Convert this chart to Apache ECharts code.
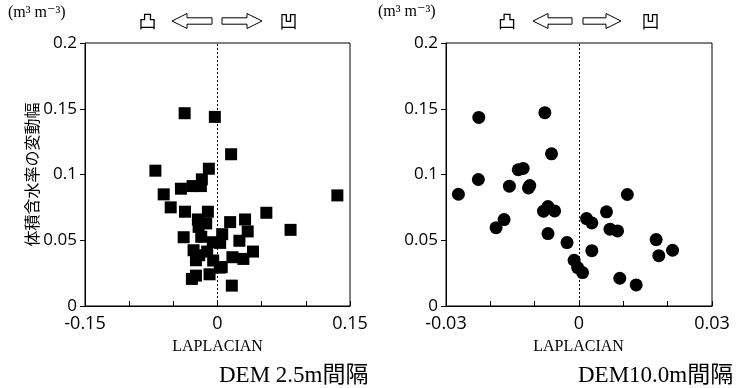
<!DOCTYPE html>
<html><head><meta charset="utf-8">
<script src="https://cdn.jsdelivr.net/npm/echarts@6/dist/echarts.min.js"></script>
<style>html,body{margin:0;padding:0;background:#fff}#c{width:738px;height:388px}</style>
</head><body><div id="c"></div>
<script>
// Left panel: DEM 2.5 m spacing (squares)
const leftLaplacian = [-0.0372,-0.0030,0.0154,-0.0703,-0.0098,-0.0177,-0.0188,-0.0282,-0.0414,-0.0609,
  0.1357,-0.0530,-0.0368,-0.0109,0.0553,-0.0222,0.0312,0.0143,-0.0128,-0.0214,
  0.0342,0.0827,0.0053,-0.0383,-0.0184,0.0248,-0.0053,0.0030,-0.0271,-0.0117,
  0.0402,-0.0207,0.0169,0.0293,-0.0244,-0.0049,0.0026,0.0048,-0.0090,-0.0244,
  -0.0290,0.0162];
const leftVariation = [0.1466,0.1438,0.1154,0.1029,0.1044,0.0963,0.0912,0.0912,0.0892,0.0849,
  0.0841,0.0750,0.0717,0.0717,0.0709,0.0658,0.0658,0.0638,0.0628,0.0602,
  0.0567,0.0579,0.0546,0.0523,0.0526,0.0496,0.0485,0.0480,0.0424,0.0414,
  0.0414,0.0386,0.0371,0.0358,0.0348,0.0346,0.0292,0.0296,0.0241,0.0231,
  0.0206,0.0155];
// Right panel: DEM 10.0 m spacing (circles)
const rightLaplacian = [-0.0272,-0.0226,-0.0227,-0.0187,-0.0169,-0.0157,-0.0137,-0.0126,-0.0114,-0.0111,
  -0.0077,-0.0062,-0.0080,-0.0070,-0.0055,-0.0070,-0.0027,-0.0011,-0.0003,0.0008,
  0.0017,0.0029,0.0029,0.0062,0.0070,0.0087,0.0109,0.0092,0.0129,0.0174,
  0.0180,0.0211];
const rightVariation = [0.0850,0.1434,0.0962,0.0596,0.0657,0.0911,0.1036,0.1046,0.0898,0.0916,
  0.1470,0.1157,0.0721,0.0756,0.0723,0.0551,0.0482,0.0348,0.0292,0.0254,
  0.0665,0.0632,0.0421,0.0716,0.0584,0.0571,0.0848,0.0211,0.0160,0.0505,
  0.0383,0.0424];
const yTicks = [0, 0.05, 0.1, 0.15, 0.2];
const leftXTickLabels = ['-0.15', '0', '0.15'];
const rightXTickLabels = ['-0.03', '0', '0.03'];
const yName = '体積含水率の変動幅';
const unitText = '(m³ m⁻³)';
const convexText = '凸', concaveText = '凹';
const xName = 'LAPLACIAN';
const leftTitle = 'DEM 2.5m間隔', rightTitle = 'DEM10.0m間隔';

const zip = (a, b) => a.map((v, i) => [v, b[i]]);
const sans = 'Open Sans, Liberation Sans, sans-serif';
const cjk = 'Noto Sans CJK JP';

function xAxisCfg(idx, min, max, interval, labels) {
  const vals = labels.map(parseFloat);
  return {
    type: 'value', gridIndex: idx, min, max, interval,
    axisLine: {show: true, onZero: false, lineStyle: {color: '#000', width: 1}},
    axisTick: {show: true, inside: true, length: 5, lineStyle: {color: '#000'}},
    axisLabel: {color: '#000', fontSize: 18, fontFamily: sans, margin: 9,
      formatter: v => { const k = vals.findIndex(l => Math.abs(l - v) < 1e-9); return k >= 0 ? labels[k] : ''; }},
    splitLine: {show: false}
  };
}
function yAxisCfg(idx, withName) {
  return {
    type: 'value', gridIndex: idx, min: yTicks[0], max: yTicks[yTicks.length - 1], interval: yTicks[1] - yTicks[0],
    axisLine: {show: true, onZero: false, lineStyle: {color: '#000', width: 1}},
    axisTick: {show: true, inside: false, length: 5, lineStyle: {color: '#000'}},
    axisLabel: {color: '#000', fontSize: 17, fontFamily: sans, margin: 8},
    splitLine: {show: false},
    name: withName ? yName : '', nameLocation: 'middle', nameRotate: 90, nameGap: 43,
    nameTextStyle: {color: '#000', fontSize: 16, fontFamily: cjk}
  };
}
const zeroLine = {silent: true, symbol: 'none', label: {show: false},
  lineStyle: {type: [2, 2], color: '#000', width: 1}, data: [{xAxis: 0}]};

function arrow(x0, x1, yc, dir) {
  // hollow block arrow between x0 (left) and x1 (right); dir -1 points left, +1 right
  const H = 7.5, s = 3.2, h = 15;
  let pts;
  if (dir < 0) {
    pts = [[x0, yc], [x0 + h, yc - H], [x0 + h, yc - s], [x1, yc - s], [x1, yc + s], [x0 + h, yc + s], [x0 + h, yc + H]];
  } else {
    pts = [[x1, yc], [x1 - h, yc - H], [x1 - h, yc - s], [x0, yc - s], [x0, yc + s], [x1 - h, yc + s], [x1 - h, yc + H]];
  }
  return {type: 'polygon', shape: {points: pts}, style: {fill: '#fff', stroke: '#000', lineWidth: 1}};
}
function header(c1, a1, a2, b1, b2, c2) {
  const yc = 21;
  return [
    {type: 'text', x: c1, y: yc, style: {text: convexText, font: '18px "Noto Sans CJK JP"', fill: '#000', align: 'center', verticalAlign: 'middle'}},
    arrow(a1, a2, yc, -1),
    arrow(b1, b2, yc, 1),
    {type: 'text', x: c2, y: yc, style: {text: concaveText, font: '18px "Noto Sans CJK JP"', fill: '#000', align: 'center', verticalAlign: 'middle'}}
  ];
}
function txt(x, y, text, font, align) {
  return {type: 'text', x, y, style: {text, font, fill: '#000', align: align || 'center', verticalAlign: 'middle'}};
}

const chart = echarts.init(document.getElementById('c'), null, {renderer: 'canvas'});
chart.setOption({
  backgroundColor: '#fff',
  animation: false,
  grid: [
    {left: 85, top: 43, width: 265, height: 263, show: true, borderColor: '#000', borderWidth: 1, backgroundColor: 'transparent'},
    {left: 446, top: 43, width: 266, height: 263, show: true, borderColor: '#000', borderWidth: 1, backgroundColor: 'transparent'}
  ],
  xAxis: [xAxisCfg(0, -0.15, 0.15, 0.05, leftXTickLabels), xAxisCfg(1, -0.03, 0.03, 0.01, rightXTickLabels)],
  yAxis: [yAxisCfg(0, true), yAxisCfg(1, false)],
  series: [
    {type: 'scatter', xAxisIndex: 0, yAxisIndex: 0, symbol: 'rect', symbolSize: 12,
      itemStyle: {color: '#000', opacity: 1}, data: zip(leftLaplacian, leftVariation), markLine: zeroLine},
    {type: 'scatter', xAxisIndex: 1, yAxisIndex: 1, symbol: 'circle', symbolSize: 13,
      itemStyle: {color: '#000', opacity: 1}, data: zip(rightLaplacian, rightVariation), markLine: zeroLine}
  ],
  graphic: [
    txt(8, 13, unitText, '16px "Liberation Serif", "DejaVu Serif"', 'left'),
    txt(378, 12, unitText, '16px "Liberation Serif", "DejaVu Serif"', 'left'),
    ...header(147.5, 172, 212, 222, 262, 288.5),
    ...header(507, 533, 572, 583, 621, 650.5),
    txt(217.5, 347, xName, '16px "Liberation Serif"'),
    txt(578.5, 347, xName, '16px "Liberation Serif"'),
    txt(219, 376, leftTitle, '23px "Liberation Serif", "Noto Sans CJK JP"', 'left'),
    txt(578, 376, rightTitle, '23px "Liberation Serif", "Noto Sans CJK JP"', 'left')
  ]
});
</script>
</body></html>
